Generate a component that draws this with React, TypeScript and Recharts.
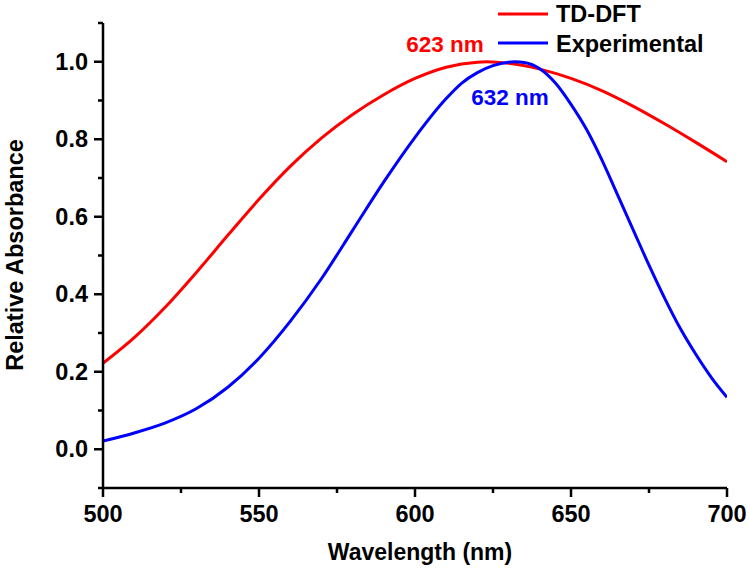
import React from "react"
import { LineChart, Line, XAxis, YAxis, Customized } from "recharts"

// TD-DFT (calculated) spectrum
const tddftWavelengths = [500, 510, 520, 530, 540, 550, 560, 570, 580, 590, 600, 610, 620, 623, 630, 640, 650, 660, 670, 680, 690, 700]
const tddftValues = [0.222, 0.288, 0.367, 0.457, 0.552, 0.645, 0.73, 0.803, 0.864, 0.915, 0.957, 0.986, 0.999, 1.0, 0.996, 0.981, 0.957, 0.925, 0.885, 0.84, 0.792, 0.742]

// Experimental spectrum
const expWavelengths = [500, 510, 520, 530, 540, 550, 560, 570, 580, 590, 600, 610, 615, 620, 625, 630, 632, 635, 640, 645, 650, 655, 660, 665, 670, 675, 680, 685, 690, 695, 700]
const expValues = [0.021, 0.042, 0.068, 0.105, 0.16, 0.235, 0.33, 0.44, 0.565, 0.69, 0.805, 0.905, 0.945, 0.972, 0.99, 0.999, 1.0, 0.998, 0.982, 0.945, 0.89, 0.825, 0.745, 0.655, 0.565, 0.475, 0.39, 0.312, 0.245, 0.185, 0.134]

const xTicks = [500, 525, 550, 575, 600, 625, 650, 675, 700]
const xLabelled = [500, 550, 600, 650, 700]
const yTicks = [-0.1, 0, 0.1, 0.2, 0.3, 0.4, 0.5, 0.6, 0.7, 0.8, 0.9, 1.0, 1.1]
const yLabelled = [0, 0.2, 0.4, 0.6, 0.8, 1.0]

const seriesNames = ["TD-DFT", "Experimental"]
const peakLabels = ["623 nm", "632 nm"]

const tddftData = tddftWavelengths.map((w, i) => ({ w, a: tddftValues[i] }))
const expData = expWavelengths.map((w, i) => ({ w, a: expValues[i] }))

const FONT = "'Liberation Sans', Arial, sans-serif"
const RED = "#ff0000"
const BLUE = "#0000ff"

const isLabelled = (list: number[], v: number) => list.some((t) => Math.abs(t - v) < 1e-6)

const XTick = (props: any) => {
    const { x, y, payload } = props
    if (!isLabelled(xLabelled, payload.value)) return null
    return (
        <g>
            <line x1={x} y1={y} x2={x} y2={y + 4} stroke="#000" strokeWidth={2.5} />
            <text x={x} y={y + 29} textAnchor="middle" fontFamily={FONT} fontWeight="bold" fontSize={23.5} fill="#000">
                {payload.value}
            </text>
        </g>
    )
}

const YTick = (props: any) => {
    const { x, y, payload } = props
    if (!isLabelled(yLabelled, payload.value)) return null
    return (
        <g>
            <line x1={x} y1={y} x2={x - 4} y2={y} stroke="#000" strokeWidth={2.5} />
            <text x={x - 10} y={y + 8} textAnchor="end" fontFamily={FONT} fontWeight="bold" fontSize={23.5} fill="#000">
                {Number(payload.value).toFixed(1)}
            </text>
        </g>
    )
}

// legend, axis titles and peak annotations
const Decorations = () => (
    <g fontFamily={FONT} fontWeight="bold">
        <line x1={498} y1={14} x2={548} y2={14} stroke={RED} strokeWidth={3} />
        <text x={556} y={22} fontSize={23.5} fill="#000">{seriesNames[0]}</text>
        <line x1={498} y1={43} x2={548} y2={43} stroke={BLUE} strokeWidth={3} />
        <text x={556} y={52} fontSize={23.5} fill="#000">{seriesNames[1]}</text>

        <text x={445} y={52} fontSize={22.5} fill={RED} textAnchor="middle">{peakLabels[0]}</text>
        <text x={510} y={105} fontSize={22.5} fill={BLUE} textAnchor="middle">{peakLabels[1]}</text>

        <text x={420} y={560} fontSize={23} fill="#000" textAnchor="middle">Wavelength (nm)</text>
        <text x={23} y={255} fontSize={23.5} fill="#000" textAnchor="middle" transform="rotate(-90, 23, 255)">
            Relative Absorbance
        </text>
    </g>
)

export default function App() {
    return (
        <div style={{ position: "absolute", left: 0, top: 0, width: 750, height: 572, background: "#fff" }}>
            <LineChart width={750} height={572} margin={{ top: 23, right: 23, bottom: 0, left: 0 }}>
                <XAxis
                    dataKey="w"
                    type="number"
                    domain={[500, 700]}
                    ticks={xTicks}
                    interval={0}
                    height={84}
                    allowDataOverflow
                    axisLine={{ stroke: "#000", strokeWidth: 2.5 }}
                    tickLine={{ stroke: "#000", strokeWidth: 2.5 }}
                    tickSize={5}
                    tickMargin={0}
                    tick={<XTick />}
                />
                <YAxis
                    type="number"
                    domain={[-0.1, 1.1]}
                    ticks={yTicks}
                    interval={0}
                    width={103}
                    allowDataOverflow
                    axisLine={{ stroke: "#000", strokeWidth: 2.5 }}
                    tickLine={{ stroke: "#000", strokeWidth: 2.5 }}
                    tickSize={5}
                    tickMargin={0}
                    tick={<YTick />}
                />
                <Line data={tddftData} dataKey="a" type="monotone" stroke={RED} strokeWidth={3} dot={false} isAnimationActive={false} />
                <Line data={expData} dataKey="a" type="monotone" stroke={BLUE} strokeWidth={3} dot={false} isAnimationActive={false} />
                <Customized component={<Decorations />} />
            </LineChart>
        </div>
    )
}
